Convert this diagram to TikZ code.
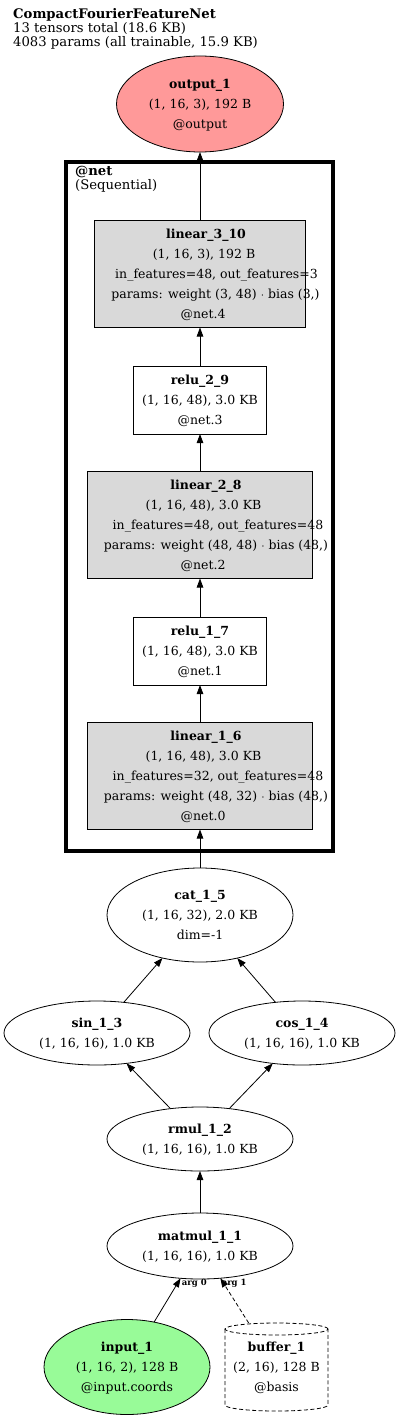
\documentclass[tikz,border=0pt]{standalone}
\usepackage{fontspec}
\setmainfont{DejaVu Serif}
\usetikzlibrary{arrows.meta,shapes.geometric}
\definecolor{outred}{HTML}{FF9999}
\definecolor{ingreen}{HTML}{98FB98}
\definecolor{boxgray}{HTML}{D9D9D9}
\newcommand{\nodetext}[1]{\smash{\makebox[0pt]{\raisebox{-3.2pt}{\begin{tabular}{@{}c@{}}#1\end{tabular}}}}}
\newcommand{\sh}[1]{\hspace*{#1pt}}
\tikzset{
  base/.style={inner sep=0pt, outer sep=0pt, draw=black, line width=0.8pt, font=\fontsize{12.5}{20}\selectfont},
  ell/.style={base, ellipse},
  rbox/.style={base, rectangle},
  lin/.style={rbox, fill=boxgray, minimum width=#1, minimum height=107pt},
  relubox/.style={rbox, fill=white, minimum width=133pt, minimum height=68pt},
  opell/.style={ell, fill=white, minimum width=186pt, minimum height=64pt},
  conn/.style={draw=black, line width=0.8pt, -{Triangle[length=9pt,width=6.5pt]}},
  dconn/.style={conn, dash pattern=on 4pt off 2.5pt},
  argl/.style={font=\fontsize{8.5}{9}\selectfont\bfseries, inner sep=1pt, anchor=north west},
  small/.style={font=\fontsize{13.2}{14}\selectfont, inner sep=0pt, anchor=west}
}
\begin{document}
\begin{tikzpicture}[x=1pt,y=-1pt]
\useasboundingbox[fill=white] (0,0) rectangle (400,1420);
% title
\node[small] (t1) at (13,15) {\textbf{CompactFourierFeatureNet}};
\node[small] (t2) at (13,29) {13 tensors total (18.6 KB)};
\node[small] (t3) at (13,43) {4083 params (all trainable, 15.9 KB)};
% cluster label
\node[small] (c1) at (75,172) {\textbf{@net}};
\node[small] (c2) at (75,186) {(Sequential)};
% nodes
\node[ell, fill=outred, minimum width=167pt, minimum height=96pt] (output) at (200,104)
  {\nodetext{\textbf{output\_1}\\(1, 16, 3), 192 B\\@output}};
\node[lin=211pt] (lin3) at (200,274)
  {\nodetext{\sh{12}\textbf{linear\_3\_10}\\\sh{8}(1, 16, 3), 192 B\\\sh{33}in\_features=48, out\_features=3\\\sh{31}params: weight (3, 48) $\cdot$ bias (3,)\\\sh{6}@net.4}};
\node[relubox] (relu2) at (200,400)
  {\nodetext{\textbf{relu\_2\_9}\\(1, 16, 48), 3.0 KB\\@net.3}};
\node[lin=225pt] (lin2) at (200,525)
  {\nodetext{\sh{12}\textbf{linear\_2\_8}\\\sh{7}(1, 16, 48), 3.0 KB\\\sh{36}in\_features=48, out\_features=48\\\sh{32}params: weight (48, 48) $\cdot$ bias (48,)\\\sh{6}@net.2}};
\node[relubox] (relu1) at (200,651)
  {\nodetext{\textbf{relu\_1\_7}\\(1, 16, 48), 3.0 KB\\@net.1}};
\node[lin=225pt] (lin1) at (200,776)
  {\nodetext{\sh{12}\textbf{linear\_1\_6}\\\sh{7}(1, 16, 48), 3.0 KB\\\sh{36}in\_features=32, out\_features=48\\\sh{32}params: weight (48, 32) $\cdot$ bias (48,)\\\sh{6}@net.0}};
\node[ell, fill=white, minimum width=186pt, minimum height=94pt] (cat) at (200,915)
  {\nodetext{\textbf{cat\_1\_5}\\(1, 16, 32), 2.0 KB\\dim=-1}};
\node[opell] (sin) at (97,1033)
  {\nodetext{\textbf{sin\_1\_3}\\(1, 16, 16), 1.0 KB}};
\node[opell] (cos) at (302,1033)
  {\nodetext{\textbf{cos\_1\_4}\\(1, 16, 16), 1.0 KB}};
\node[opell] (rmul) at (200,1139)
  {\nodetext{\textbf{rmul\_1\_2}\\(1, 16, 16), 1.0 KB}};
\node[opell, minimum height=66pt] (matmul) at (200,1246)
  {\nodetext{\textbf{matmul\_1\_1}\\(1, 16, 16), 1.0 KB}};
\node[ell, fill=ingreen, minimum width=166pt, minimum height=95pt] (input) at (127,1367)
  {\nodetext{\textbf{input\_1}\\(1, 16, 2), 128 B\\@input.coords}};
\node[rbox, draw=none, minimum width=103pt, minimum height=88pt] (buf) at (276.5,1367)
  {\nodetext{\textbf{buffer\_1}\\(2, 16), 128 B\\@basis}};
% cylinder outline of buffer
\draw[line width=0.8pt, dash pattern=on 4pt off 2.5pt] (276.5,1329) ellipse [x radius=51.5pt, y radius=6pt];
\draw[line width=0.8pt, dash pattern=on 4pt off 2.5pt] (225,1329) -- (225,1405) arc[start angle=180, end angle=360, x radius=51.5pt, y radius=6pt] -- (328,1329);
% cluster border (drawn over the node texts, as in the reference)
\draw[line width=4.5pt] (66,162) rectangle (333,851);
% edges
\draw[conn] (lin3) -- (output);
\draw[conn] (relu2) -- (lin3);
\draw[conn] (lin2) -- (relu2);
\draw[conn] (relu1) -- (lin2);
\draw[conn] (lin1) -- (relu1);
\draw[conn] (cat) -- (lin1);
\draw[conn] (sin) -- (cat);
\draw[conn] (cos) -- (cat);
\draw[conn] (rmul) -- (sin);
\draw[conn] (rmul) -- (cos);
\draw[conn] (matmul) -- (rmul);
\draw[conn] (input) -- (matmul) node[argl, pos=1] {arg 0};
\draw[dconn] (buf) -- (matmul) node[argl, pos=1] {arg 1};
\end{tikzpicture}
\end{document}
